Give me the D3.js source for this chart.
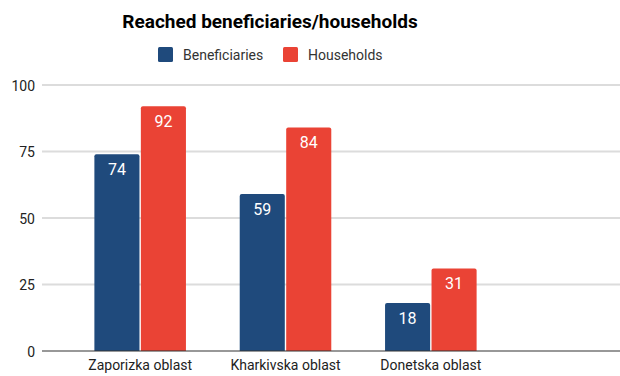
<!DOCTYPE html>
<html>
<head>
<meta charset="utf-8">
<script src="https://cdn.jsdelivr.net/npm/d3@7/dist/d3.min.js"></script>
<style>
  html, body { margin: 0; padding: 0; background: #fff; }
  svg { display: block; font-family: Roboto, "Noto Sans", sans-serif; }
</style>
</head>
<body>
<svg id="chart" width="620" height="376"></svg>
<script>
// Reached beneficiaries / households by oblast
const categories = ["Zaporizka oblast", "Kharkivska oblast", "Donetska oblast"];
const seriesNames = ["Beneficiaries", "Households"];
const beneficiaries = [74, 59, 18];
const households = [92, 84, 31];
const yTicks = [0, 25, 50, 75, 100];
const colors = ["#1f4a7c", "#ea4335"];

const svg = d3.select("#chart");

const gridLeft = 42, gridRight = 620;
const y = d3.scaleLinear().domain([0, 100]).range([351, 85]);
const x = d3.scaleBand().domain(categories).range([67.5, 503.5]).paddingInner(0.37).paddingOuter(0.185);
const xs = d3.scaleBand().domain(seriesNames).range([0, x.bandwidth()]).paddingInner(0.03);

// gridlines
svg.append("g").selectAll("line")
  .data(yTicks.filter(t => t > 0))
  .join("line")
  .attr("x1", gridLeft).attr("x2", gridRight)
  .attr("y1", d => y(d)).attr("y2", d => y(d))
  .attr("stroke", "#dcdcdc").attr("stroke-width", 2);

// y axis labels
const yAxis = d3.axisLeft(y).tickValues(yTicks).tickSize(0).tickPadding(0);
const gy = svg.append("g").attr("transform", "translate(35,0)").call(yAxis);
gy.select(".domain").remove();
gy.selectAll("text").attr("font-size", 14).attr("fill", "#222")
  .attr("font-family", "Roboto, sans-serif").attr("dy", "0.36em");

// bars
const rows = categories.map((c, i) => ({ c, vals: [beneficiaries[i], households[i]] }));
const groups = svg.append("g").selectAll("g")
  .data(rows).join("g")
  .attr("transform", d => `translate(${x(d.c)},0)`);

const r = 2;
function topRounded(x0, y0, w, h) {
  return `M${x0},${y0 + h}V${y0 + r}Q${x0},${y0} ${x0 + r},${y0}H${x0 + w - r}Q${x0 + w},${y0} ${x0 + w},${y0 + r}V${y0 + h}Z`;
}

groups.selectAll("path")
  .data(d => d.vals.map((v, k) => ({ v, k })))
  .join("path")
  .attr("d", d => topRounded(xs(seriesNames[d.k]), y(d.v), xs.bandwidth(), y(0) - y(d.v)))
  .attr("fill", d => colors[d.k]);

groups.selectAll("text")
  .data(d => d.vals.map((v, k) => ({ v, k })))
  .join("text")
  .attr("x", d => xs(seriesNames[d.k]) + xs.bandwidth() / 2)
  .attr("y", d => y(d.v) + 20.5)
  .attr("text-anchor", "middle")
  .attr("font-size", 16)
  .attr("font-weight", 400)
  .attr("fill", "#fff")
  .text(d => d.v);

// baseline
svg.append("line")
  .attr("x1", gridLeft).attr("x2", gridRight)
  .attr("y1", y(0)).attr("y2", y(0))
  .attr("stroke", "#333").attr("stroke-width", 1.2);

// x axis labels
const xAxis = d3.axisBottom(x).tickSize(0).tickPadding(0);
const gx = svg.append("g").attr("transform", "translate(0,370)").call(xAxis);
gx.select(".domain").remove();
gx.selectAll("text").attr("font-size", 14).attr("fill", "#222")
  .attr("font-family", "Roboto, sans-serif").attr("dy", 0);

// title
svg.append("text")
  .attr("x", 270).attr("y", 28)
  .attr("text-anchor", "middle")
  .attr("font-size", 19).attr("font-weight", 700).attr("fill", "#000")
  .text("Reached beneficiaries/households");

// legend
const legendX = [158, 283];
const lg = svg.append("g").selectAll("g")
  .data(seriesNames).join("g")
  .attr("transform", (d, i) => `translate(${legendX[i]},47)`);
lg.append("rect").attr("width", 15).attr("height", 15).attr("rx", 1.5)
  .attr("fill", (d, i) => colors[i]);
lg.append("text").attr("x", 25).attr("y", 12.5)
  .attr("font-size", 14).attr("fill", "#333")
  .text(d => d);
</script>
</body>
</html>
